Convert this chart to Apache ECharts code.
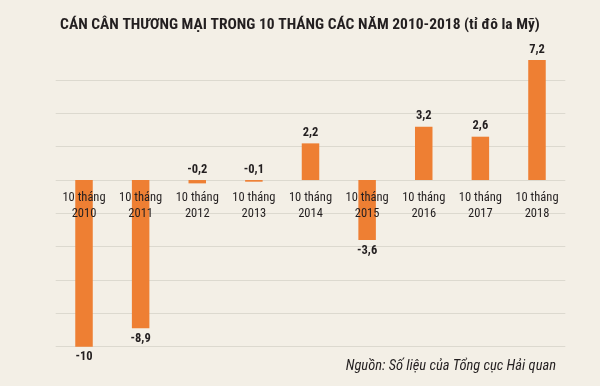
<!DOCTYPE html>
<html><head><meta charset="utf-8">
<script src="https://cdn.jsdelivr.net/npm/echarts@6/dist/echarts.min.js"></script>
<style>html,body{margin:0;padding:0;background:#f3efe6}#c{width:600px;height:386px}</style>
</head><body><div id="c"></div>
<script>
var titleText = 'CÁN CÂN THƯƠNG MẠI TRONG 10 THÁNG CÁC NĂM 2010-2018 (tỉ đô la Mỹ)';
var sourceText = 'Nguồn: Số liệu của Tổng cục Hải quan';
var years = ['2010','2011','2012','2013','2014','2015','2016','2017','2018'];
var prefix = '10 tháng';
var values = [-10, -8.9, -0.2, -0.1, 2.2, -3.6, 3.2, 2.6, 7.2];
var labelPos = ['bottom','bottom','top','top','top','bottom','top','top','top'];

var FONT = '"Roboto Condensed","Open Sans Condensed",sans-serif';
var chart = echarts.init(document.getElementById('c'));
var grid = '#dcd9cf';
chart.setOption({
  backgroundColor: '#f3efe6',
  animation: false,
  title: {
    text: titleText, left: 'center', top: 12,
    textStyle: {fontFamily: FONT, fontWeight: 'bold', fontSize: 15.5, color: '#231f20'}
  },
  graphic: [{
    type: 'text', right: 44, top: 359,
    style: {text: sourceText, font: 'italic 14.5px ' + FONT, fill: '#231f20'}
  }],
  grid: {left: 55.7, right: 34.7, top: 46.7, bottom: 39.3},
  xAxis: {
    type: 'category', data: years, z: 10, position: 'bottom', offset: -166.67,
    axisLine: {show: false, onZero: false},
    axisTick: {show: false},
    axisLabel: {
      interval: 0, margin: 10, fontFamily: FONT, fontSize: 12.5, lineHeight: 16, color: '#231f20',
      formatter: function (v) { return prefix + '\n' + v; }
    }
  },
  yAxis: {
    type: 'value', min: -10, max: 8, interval: 2,
    axisLabel: {show: false}, axisLine: {show: false}, axisTick: {show: false},
    splitLine: {lineStyle: {width: 1, color: [grid,grid,grid,grid,grid,grid,grid,grid,grid,'rgba(0,0,0,0)']}}
  },
  series: [{
    type: 'bar', barWidth: 17.5,
    itemStyle: {color: '#ee7f33'},
    label: {
      show: true, distance: 4, fontFamily: FONT, fontWeight: 'bold', fontSize: 12.5, color: '#231f20',
      formatter: function (p) { return String(p.value).replace('.', ','); }
    },
    data: values.map(function (v, i) { return {value: v, label: {position: labelPos[i]}}; })
  }]
});
</script></body></html>
